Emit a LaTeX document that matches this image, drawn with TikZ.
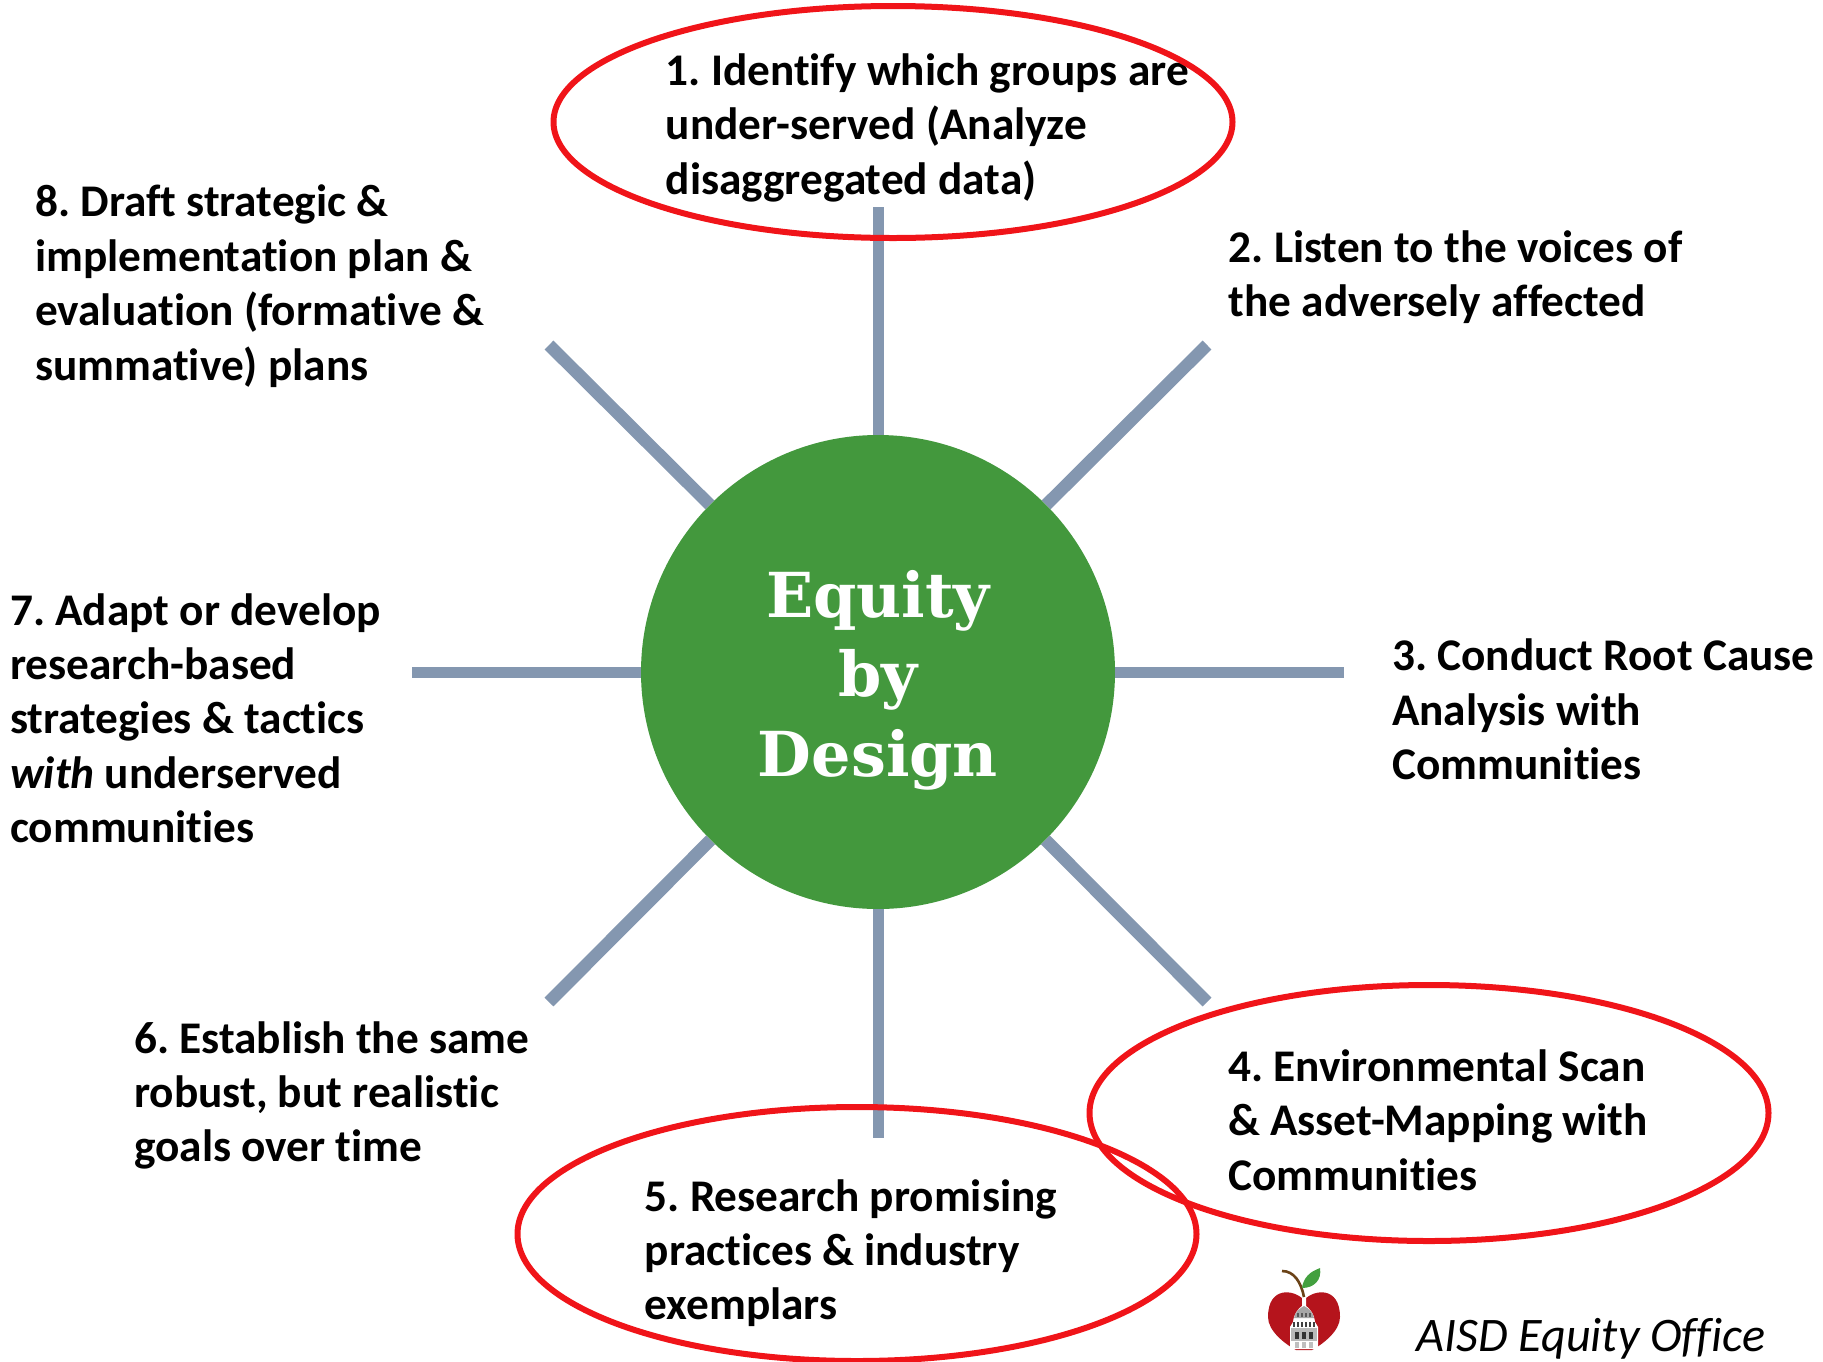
\documentclass[tikz,border=0pt]{standalone}
\usepackage{fontspec}
\setmainfont[Ligatures=NoCommon]{Carlito}
\newfontfamily\titlefont{DejaVu Serif}
\usetikzlibrary{shapes.geometric}
\definecolor{spokeblue}{HTML}{8497B0}
\definecolor{hubgreen}{HTML}{43983D}
\definecolor{ringred}{HTML}{F01419}
\definecolor{applered}{HTML}{B5141C}
\definecolor{stembrown}{HTML}{6B4318}
\definecolor{leafgreen}{HTML}{43A03F}
\tikzset{
  x=1pt,y=-1pt,
  spoke/.style={draw=spokeblue,line width=11pt},
  diagspoke/.style={draw=spokeblue,line width=12.5pt},
  label/.style={anchor=north west,inner sep=0pt,align=left,font=\fontsize{45.3}{54.4}\selectfont\bfseries},
  ring/.style={ellipse,draw=ringred,line width=6pt,inner sep=0pt,minimum width=679pt}
}
\begin{document}
\frenchspacing
\begin{tikzpicture}
\useasboundingbox (0,0) rectangle (1823,1361);
\node[circle,fill=hubgreen,minimum size=474pt,inner sep=0pt] (hub) at (878,672) {};
\node[text=white,align=center,inner sep=0pt,font=\fontsize{62}{79.5}\selectfont\titlefont\bfseries] (title) at (878,680) {Equity\\by\\Design};
\coordinate (s1) at (878,207);
\coordinate (s2) at (1207,345);
\coordinate (s3) at (1344,672);
\coordinate (s4) at (1207,1002);
\coordinate (s5) at (878,1138);
\coordinate (s6) at (549,1002);
\coordinate (s7) at (412,672);
\coordinate (s8) at (549,345);
\foreach \i in {1,3,5,7} \draw[spoke] (hub) -- (s\i);
\foreach \i in {2,4,6,8} \draw[diagspoke] (hub) -- (s\i);
\node[label] (t1) at (665.5,53.5) {1. Identify which groups are\\under-served (Analyze\\disaggregated data)};
\node[label] (t2) at (1228.5,230.5) {2. Listen to the voices of\\the adversely affected};
\node[label] (t3) at (1392,639) {3. Conduct Root Cause\\Analysis with\\Communities};
\node[label] (t4) at (1228,1049.5) {4. Environmental Scan\\\& Asset-Mapping with\\Communities};
\node[label] (t5) at (644.5,1179) {5. Research promising\\practices \& industry\\exemplars};
\node[label] (t6) at (134,1021) {6. Establish the same\\robust, but realistic\\goals over time};
\node[label] (t7) at (10,593) {7. Adapt or develop\\research-based\\strategies \& tactics\\\textit{with} underserved\\communities};
\node[label] (t8) at (35,185) {8. Draft strategic \&\\implementation plan \&\\evaluation (formative \&\\summative) plans};
\node[ring,minimum height=232pt] (r1) at (893,122) {};
\node[ring,minimum height=256pt] (r4) at (1429,1113) {};
\node[ring,minimum height=254pt] (r5) at (857,1234) {};
% logo
\fill[applered] (1304,1300) .. controls (1294,1289) and (1268,1286) .. (1268,1317)
  .. controls (1268,1331) and (1285,1344) .. (1296,1350) -- (1312,1350)
  .. controls (1323,1344) and (1340,1331) .. (1340,1317)
  .. controls (1340,1286) and (1314,1289) .. (1304,1300) -- cycle;
\draw[stembrown,line width=2.6pt] (1282,1271) .. controls (1294,1271) and (1301,1282) .. (1304,1297);
\fill[leafgreen] (1302,1288) .. controls (1304,1273) and (1316,1270) .. (1320,1268)
  .. controls (1322,1280) and (1314,1288) .. (1302,1288) -- cycle;
% capitol
\fill[white] (1290,1349) -- (1290,1327) -- (1293,1322) .. controls (1294,1313) and (1299,1308) .. (1302,1306)
  -- (1302,1298) -- (1306,1298) -- (1306,1306) .. controls (1309,1308) and (1314,1313) .. (1315,1322)
  -- (1318,1327) -- (1318,1349) -- cycle;
\fill[gray!70] (1294,1318) .. controls (1295,1312) and (1300,1308) .. (1304,1306)
  .. controls (1308,1308) and (1313,1312) .. (1314,1318) -- cycle;
\foreach \xx in {1298,1302,1306,1310} \fill[black!65] (\xx-1,1313) rectangle (\xx+1,1317);
\foreach \xx in {1294,1298,1302,1306,1310,1314} \fill[black!75] (\xx-1.2,1322) rectangle (\xx+1.2,1327);
\fill[gray!55] (1291,1328) rectangle (1317,1341);
\foreach \xx in {1297,1304,1311} \fill[black!80] (\xx-2,1332) rectangle (\xx+2,1339);
\foreach \xx in {1297,1304,1311} \fill[gray!50] (\xx-2,1342) rectangle (\xx+2,1348);
\node[anchor=base west,inner sep=0pt,font=\fontsize{48.2}{54}\selectfont\itshape] (office) at (1416,1351) {AISD Equity Office};
\end{tikzpicture}
\end{document}
